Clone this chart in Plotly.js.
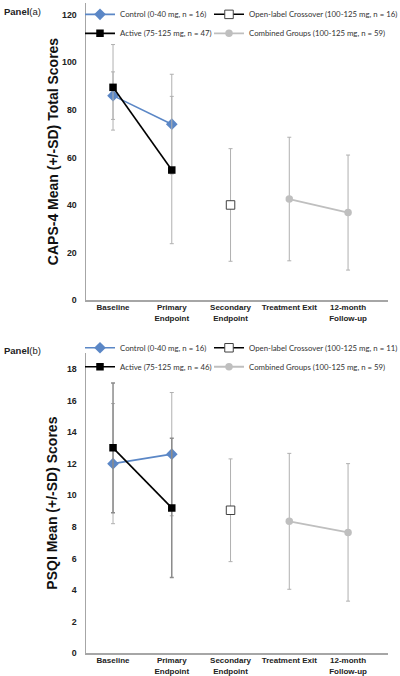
<!DOCTYPE html>
<html>
<head>
<meta charset="utf-8">
<script src="https://cdn.plot.ly/plotly-3.0.1.min.js"></script>
<style>html,body{margin:0;padding:0;background:#fff;}#chart{width:400px;height:676px;}</style>
</head>
<body>
<div id="chart"></div>
<script>
// Time points (x categories)
const timepoints = ["Baseline", "Primary<br>Endpoint", "Secondary<br>Endpoint", "Treatment Exit", "12-month<br>Follow-up"];

// Panel (a): CAPS-4 total scores, mean and SD
const capsControlX = ["Baseline", "Primary<br>Endpoint"];
const capsControlMean = [86, 74];
const capsControlSD = [10, 21];
const capsActiveX = ["Baseline", "Primary<br>Endpoint"];
const capsActiveMean = [89.5, 54.7];
const capsActiveSD = [18, 31];
const capsCrossoverX = ["Secondary<br>Endpoint"];
const capsCrossoverMean = [40];
const capsCrossoverSD = [23.7];
const capsCombinedX = ["Treatment Exit", "12-month<br>Follow-up"];
const capsCombinedMean = [42.5, 36.8];
const capsCombinedSD = [26, 24.2];

// Panel (b): PSQI scores, mean and SD
const psqiControlX = ["Baseline", "Primary<br>Endpoint"];
const psqiControlMean = [12.0, 12.6];
const psqiControlSD = [3.8, 3.9];
const psqiActiveX = ["Baseline", "Primary<br>Endpoint"];
const psqiActiveMean = [13.0, 9.2];
const psqiActiveSD = [4.1, 4.4];
const psqiCrossoverX = ["Secondary<br>Endpoint"];
const psqiCrossoverMean = [9.05];
const psqiCrossoverSD = [3.25];
const psqiCombinedX = ["Treatment Exit", "12-month<br>Follow-up"];
const psqiCombinedMean = [8.35, 7.65];
const psqiCombinedSD = [4.3, 4.35];

// Legend labels
const legendA = ["Control (0-40 mg, n = 16)", "Open-label Crossover (100-125 mg, n = 16)", "Active (75-125 mg, n = 47)", "Combined Groups (100-125 mg, n = 59)"];
const legendB = ["Control (0-40 mg, n = 16)", "Open-label Crossover (100-125 mg, n = 11)", "Active (75-125 mg, n = 46)", "Combined Groups (100-125 mg, n = 59)"];

const BLUE = "#5b87c6", GRAY = "#bfbfbf", ERR = "#b0b0b0", ERR_DARK = "#8c8c8c";

function err(sd, color, w) {
  return {type: "data", array: sd, visible: true, color: color, thickness: w, width: 2};
}

// legCol1: legend for Control/Active column, legCol2: legend for Crossover/Combined column
function panelTraces(xa, ya, legCol1, legCol2, names, ctrlX, ctrlM, ctrlSD, actX, actM, actSD, crX, crM, crSD, coX, coM, coSD, activeErrColor, activeErrW) {
  return [
    {type: "scatter", mode: "lines+markers", x: coX, y: coM, xaxis: xa, yaxis: ya, legend: legCol2, legendrank: 2,
     name: names[3], error_y: err(coSD, ERR, 1),
     line: {color: GRAY, width: 1.8}, marker: {symbol: "circle", size: 7.5, color: GRAY}},
    {type: "scatter", mode: "lines+markers", x: crX, y: crM, xaxis: xa, yaxis: ya, legend: legCol2, legendrank: 1,
     name: names[1], error_y: err(crSD, ERR, 1),
     line: {color: "#000", width: 1.5}, marker: {symbol: "square", size: 8.5, color: "#fff", line: {color: "#404040", width: 1}}},
    {type: "scatter", mode: "lines+markers", x: ctrlX, y: ctrlM, xaxis: xa, yaxis: ya, legend: legCol1, legendrank: 1,
     name: names[0], error_y: err(ctrlSD, ERR, 1),
     line: {color: BLUE, width: 1.6}, marker: {symbol: "diamond", size: 9, color: BLUE}},
    {type: "scatter", mode: "lines+markers", x: actX, y: actM, xaxis: xa, yaxis: ya, legend: legCol1, legendrank: 2,
     name: names[2], error_y: err(actSD, activeErrColor, activeErrW),
     line: {color: "#000", width: 1.6}, marker: {symbol: "square", size: 7.5, color: "#000"}}
  ];
}

const data = [].concat(
  panelTraces("x", "y", "legend", "legend2", legendA, capsControlX, capsControlMean, capsControlSD, capsActiveX, capsActiveMean, capsActiveSD,
              capsCrossoverX, capsCrossoverMean, capsCrossoverSD, capsCombinedX, capsCombinedMean, capsCombinedSD, ERR, 1),
  panelTraces("x2", "y2", "legend3", "legend4", legendB, psqiControlX, psqiControlMean, psqiControlSD, psqiActiveX, psqiActiveMean, psqiActiveSD,
              psqiCrossoverX, psqiCrossoverMean, psqiCrossoverSD, psqiCombinedX, psqiCombinedMean, psqiCombinedSD, ERR_DARK, 1.5)
);

const tickFontX = {family: "Liberation Sans, Arial, sans-serif", size: 8, color: "#222", weight: "bold"};
const tickFontY = {family: "Liberation Sans, Arial, sans-serif", size: 8.8, color: "#222", weight: "bold"};
const titleFont = {family: "Liberation Sans, Arial, sans-serif", size: 14, color: "#111", weight: "bold"};
const legendFont = {family: "Lato, sans-serif", size: 7.8, color: "#333"};

function xAxis(anchor) {
  return {domain: [0.215, 0.97], anchor: anchor, type: "category", categoryorder: "array", categoryarray: timepoints,
          range: [-0.46, 4.68], showgrid: false, zeroline: false, showline: true, linecolor: "#a6a6a6", linewidth: 1.5,
          ticks: "", tickfont: tickFontX, ticklabelstandoff: -1, fixedrange: true};
}
function yAxis(anchor, domain, range, dtick, title, standoff) {
  return {domain: domain, anchor: anchor, range: range, dtick: dtick, tick0: 0, showgrid: false, zeroline: false,
          showline: true, linecolor: "#a6a6a6", linewidth: 1.5, ticks: "", tickfont: tickFontY, ticklabelstandoff: 6,
          automargin: true, title: {text: title, font: titleFont, standoff: standoff}, fixedrange: true};
}

const legendCommon = {orientation: "v", xanchor: "left", yanchor: "top",
  font: legendFont, bgcolor: "rgba(255,255,255,0)", itemclick: false, itemdoubleclick: false};

const layout = {
  width: 400, height: 676,
  margin: {l: 0, r: 0, t: 0, b: 0, autoexpand: false},
  paper_bgcolor: "#fff", plot_bgcolor: "#fff",
  showlegend: true,
  xaxis: xAxis("y"),
  yaxis: yAxis("x", [0.5562, 0.9956], [0, 125], 20, "CAPS-4 Mean (+/-SD) Total Scores", 0),
  xaxis2: xAxis("y2"),
  yaxis2: yAxis("x2", [0.0336, 0.4778], [0, 19], 2, "PSQI Mean (+/-SD) Scores", 6),
  legend: Object.assign({}, legendCommon, {x: 0.2, y: 1.0002}),
  legend2: Object.assign({}, legendCommon, {x: 0.5225, y: 1.0002}),
  legend3: Object.assign({}, legendCommon, {x: 0.2, y: 0.507}),
  legend4: Object.assign({}, legendCommon, {x: 0.5225, y: 0.507}),
  annotations: [
    {xref: "paper", yref: "paper", x: 0.004, y: 1 - 12 / 676, xanchor: "left", yanchor: "middle", showarrow: false,
     text: "<b>Panel</b>(a)", font: {family: "Liberation Sans, Arial, sans-serif", size: 9.5, color: "#222"}},
    {xref: "paper", yref: "paper", x: 0.004, y: 1 - 350 / 676, xanchor: "left", yanchor: "middle", showarrow: false,
     text: "<b>Panel</b>(b)", font: {family: "Liberation Sans, Arial, sans-serif", size: 9.5, color: "#222"}}
  ]
};

Plotly.newPlot("chart", data, layout, {staticPlot: true, displayModeBar: false});
</script>
</body>
</html>
